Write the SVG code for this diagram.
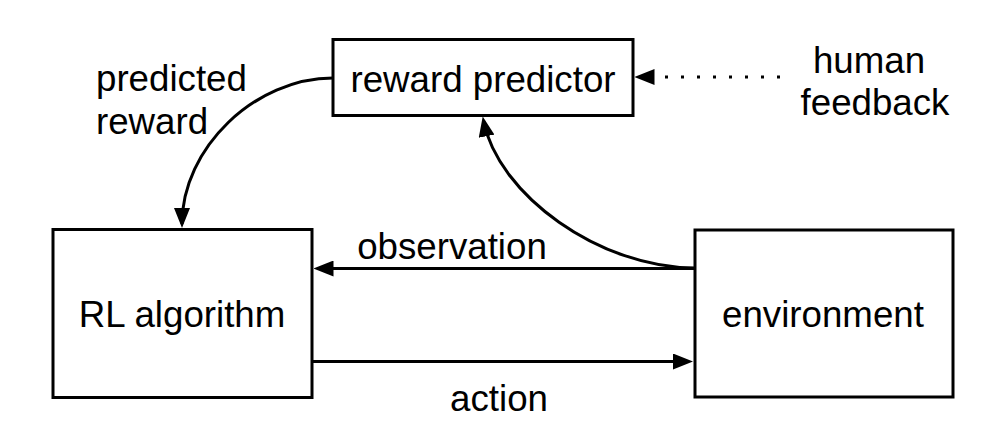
<svg xmlns="http://www.w3.org/2000/svg" width="990" height="434" viewBox="0 0 990 434">
<style>
.box{fill:#fff;stroke:#000;stroke-width:3}
.t{font-family:"Liberation Sans",Arial,sans-serif;font-size:36.7px;fill:#000}
.c{text-anchor:middle}
.e{fill:none;stroke:#000;stroke-width:3}
.dot{fill:none;stroke:#000;stroke-width:3;stroke-dasharray:3 13}
</style>
<defs>
<marker id="ah" markerUnits="userSpaceOnUse" viewBox="0 0 20 16" refX="16" refY="8" markerWidth="20" markerHeight="16" orient="auto">
<path d="M0,0 L20,8 L0,16 z" fill="#000"/>
</marker>
</defs>
<rect width="990" height="434" fill="#fff"/>
<g id="connectors">
<path class="e" d="M333,78 C255,78 182,148 182,224" marker-end="url(#ah)"/>
<path class="e" d="M695,268 C600,268 498,195 483.5,120.5" marker-end="url(#ah)"/>
<path class="e" d="M695,268.5 L317.5,268.5" marker-end="url(#ah)"/>
<path class="e" d="M312,361.5 L689,361.5" marker-end="url(#ah)"/>
<path class="dot" d="M780,77 L638.5,77" marker-end="url(#ah)"/>
</g>
<g id="reward-predictor">
<rect class="box" x="333" y="39.5" width="300" height="76"/>
<text class="t c" x="483" y="92">reward predictor</text>
</g>
<g id="rl-algorithm">
<rect class="box" x="53" y="229.5" width="259" height="168"/>
<text class="t c" x="182" y="327">RL algorithm</text>
</g>
<g id="environment">
<rect class="box" x="695" y="230" width="258" height="167"/>
<text class="t c" x="823" y="327">environment</text>
</g>
<g id="labels">
<text class="t" x="96" y="91">predicted</text>
<text class="t" x="96" y="134">reward</text>
<text class="t c" x="869" y="73">human</text>
<text class="t c" x="875" y="115">feedback</text>
<text class="t c" x="452" y="259">observation</text>
<text class="t c" x="499" y="411">action</text>
</g>
</svg>
